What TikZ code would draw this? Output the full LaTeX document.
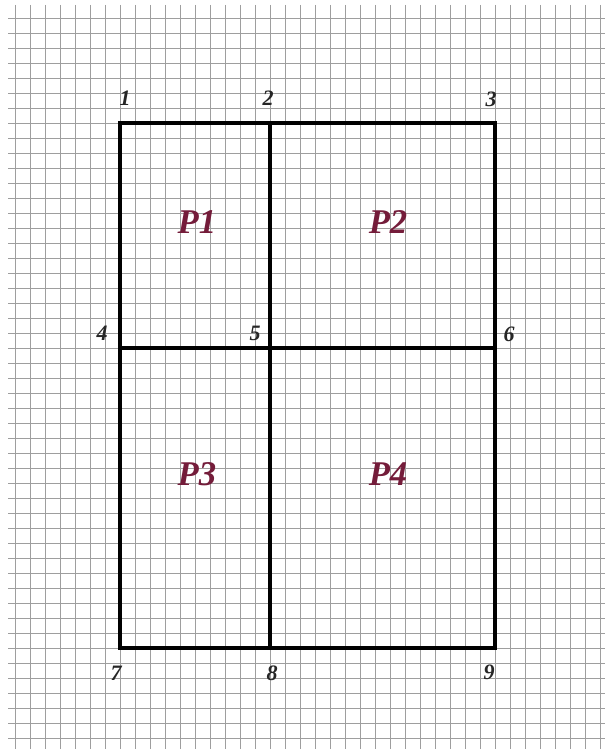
\documentclass[tikz,border=0pt]{standalone}
\usepackage{fontspec}
\setmainfont{Liberation Serif}
\definecolor{plabel}{HTML}{741C3A}
\begin{document}
\begin{tikzpicture}[x=0.75pt,y=-0.75pt,
  gridline/.style={draw=black!38,line width=0.65pt},
  wall/.style={draw=black,line width=3pt,line cap=rect},
  numlbl/.style={font=\fontsize{16.5}{16.5}\selectfont\bfseries\itshape,text=black!85,inner sep=0pt},
  partlbl/.style={font=\fontsize{26}{26}\selectfont\bfseries\itshape,text=plabel,inner sep=0pt}]
\useasboundingbox (0,0) rectangle (605,749);
\fill[white] (0,0) rectangle (605,749);
% grid
\foreach \i in {0,...,39} {
  \draw[gridline] ({15+15*\i},5) -- ({15+15*\i},749);
}
\foreach \j in {0,...,48} {
  \draw[gridline] (8,{18+15*\j}) -- (605,{18+15*\j});
}
% corner coordinates
\coordinate (c1) at (120,123);
\coordinate (c2) at (270,123);
\coordinate (c3) at (495,123);
\coordinate (c4) at (120,348);
\coordinate (c5) at (270,348);
\coordinate (c6) at (495,348);
\coordinate (c7) at (120,648);
\coordinate (c8) at (270,648);
\coordinate (c9) at (495,648);
\draw[wall] (c1) -- (c3) -- (c9) -- (c7) -- cycle;
\draw[wall] (c2) -- (c8);
\draw[wall] (c4) -- (c6);
% labels
\node[numlbl] (n1) at (125,98) {1};
\node[numlbl] (n2) at (268,98) {2};
\node[numlbl] (n3) at (491,99) {3};
\node[numlbl] (n4) at (102,333) {4};
\node[numlbl] (n5) at (255,333) {5};
\node[numlbl] (n6) at (509,334) {6};
\node[numlbl] (n7) at (116,673) {7};
\node[numlbl] (n8) at (272,673) {8};
\node[numlbl] (n9) at (489,672) {9};
\node[partlbl] (p1) at (197,222) {P1};
\node[partlbl] (p2) at (388,222) {P2};
\node[partlbl] (p3) at (197,474) {P3};
\node[partlbl] (p4) at (388,474) {P4};
\end{tikzpicture}
\end{document}
